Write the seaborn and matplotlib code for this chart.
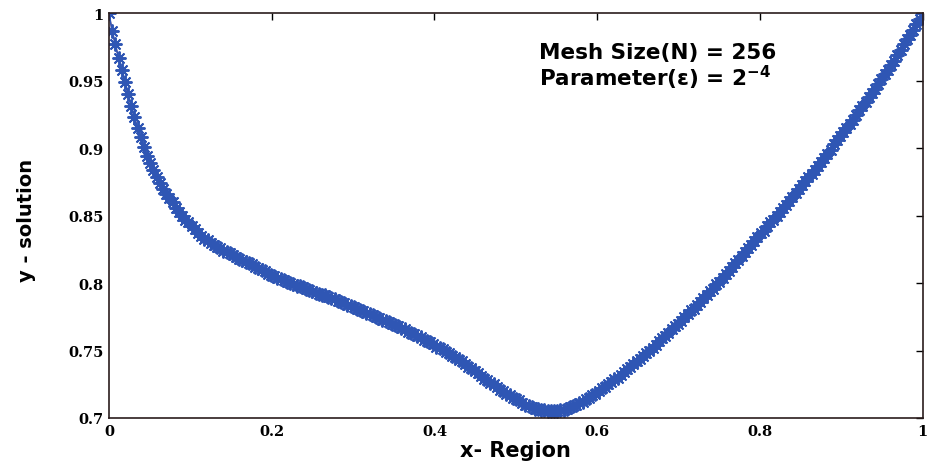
import numpy as np
import pandas as pd
import matplotlib
matplotlib.use('Agg')
import matplotlib.pyplot as plt
import seaborn as sns

# mesh N = 256 -> 257 nodes on [0, 1]
n_mesh = 256
x_nodes = np.arange(n_mesh + 1) / n_mesh

# y values, one per node
y_solution = [
    1.000, 0.987, 0.977, 0.967, 0.958, 0.949, 0.940, 0.931, 0.923, 0.915,
    0.908, 0.901, 0.894, 0.889, 0.884, 0.879, 0.874, 0.870, 0.866, 0.863,
    0.860, 0.856, 0.853, 0.850, 0.847, 0.845, 0.842, 0.840, 0.837, 0.835,
    0.833, 0.832, 0.830, 0.828, 0.827, 0.826, 0.824, 0.823, 0.822, 0.821,
    0.819, 0.818, 0.817, 0.816, 0.815, 0.814, 0.812, 0.811, 0.810, 0.809,
    0.807, 0.806, 0.805, 0.804, 0.803, 0.802, 0.801, 0.800, 0.799, 0.798,
    0.798, 0.797, 0.796, 0.795, 0.794, 0.793, 0.792, 0.791, 0.791, 0.790,
    0.789, 0.788, 0.787, 0.786, 0.785, 0.784, 0.783, 0.782, 0.781, 0.780,
    0.779, 0.778, 0.777, 0.776, 0.775, 0.774, 0.773, 0.772, 0.771, 0.770,
    0.769, 0.768, 0.767, 0.766, 0.764, 0.763, 0.762, 0.761, 0.760, 0.758,
    0.757, 0.756, 0.755, 0.753, 0.752, 0.751, 0.749, 0.748, 0.746, 0.745,
    0.743, 0.742, 0.740, 0.738, 0.737, 0.735, 0.733, 0.731, 0.729, 0.728,
    0.726, 0.725, 0.723, 0.721, 0.720, 0.718, 0.717, 0.715, 0.714, 0.713,
    0.711, 0.710, 0.709, 0.708, 0.707, 0.707, 0.706, 0.706, 0.705, 0.705,
    0.705, 0.705, 0.706, 0.706, 0.707, 0.708, 0.709, 0.710, 0.711, 0.712,
    0.714, 0.715, 0.717, 0.718, 0.720, 0.722, 0.723, 0.725, 0.727, 0.729,
    0.730, 0.732, 0.734, 0.736, 0.738, 0.740, 0.742, 0.744, 0.746, 0.748,
    0.750, 0.752, 0.754, 0.757, 0.759, 0.761, 0.763, 0.766, 0.768, 0.770,
    0.772, 0.775, 0.777, 0.780, 0.781, 0.784, 0.786, 0.789, 0.791, 0.794,
    0.796, 0.799, 0.801, 0.804, 0.807, 0.809, 0.812, 0.815, 0.817, 0.820,
    0.823, 0.826, 0.828, 0.831, 0.834, 0.837, 0.839, 0.842, 0.845, 0.847,
    0.850, 0.853, 0.856, 0.858, 0.861, 0.864, 0.867, 0.870, 0.873, 0.876,
    0.879, 0.881, 0.884, 0.887, 0.890, 0.893, 0.896, 0.899, 0.903, 0.906,
    0.909, 0.912, 0.915, 0.918, 0.921, 0.925, 0.928, 0.931, 0.934, 0.938,
    0.941, 0.944, 0.948, 0.951, 0.955, 0.958, 0.962, 0.965, 0.969, 0.973,
    0.977, 0.981, 0.984, 0.988, 0.992, 0.996, 1.000,
]

x_ticks = [0, 0.2, 0.4, 0.6, 0.8, 1]
x_tick_labels = ['0', '0.2', '0.4', '0.6', '0.8', '1']
y_ticks = [0.7, 0.75, 0.8, 0.85, 0.9, 0.95, 1]
y_tick_labels = ['0.7', '0.75', '0.8', '0.85', '0.9', '0.95', '1']

df = pd.DataFrame({'x': x_nodes, 'y': y_solution})

sns.set_style('white')
plt.rcParams['font.family'] = ['DejaVu Sans']
plt.rcParams['text.color'] = 'black'
plt.rcParams['axes.labelcolor'] = 'black'
plt.rcParams['mathtext.fontset'] = 'custom'
plt.rcParams['mathtext.rm'] = 'DejaVu Sans:bold'
plt.rcParams['mathtext.it'] = 'DejaVu Sans:bold'
plt.rcParams['mathtext.bf'] = 'DejaVu Sans:bold'

fig = plt.figure(figsize=(9.29, 4.64), dpi=100)
ax = fig.add_axes([0.1173, 0.097, 0.876, 0.872])

# thin red line underneath, blue asterisks on top (matlab style '*')
sns.lineplot(data=df, x='x', y='y', ax=ax, color='#e0302a', linewidth=0.8,
             estimator=None, sort=False)
sns.lineplot(data=df, x='x', y='y', ax=ax, color='#2f56b4', linewidth=1.2,
             marker=(8, 2, 0), markersize=10, markeredgewidth=1.4,
             markeredgecolor='#2f56b4', estimator=None, sort=False)

ax.set_xlim(0, 1)
ax.set_ylim(0.7, 1)
ax.set_xticks(x_ticks)
ax.set_xticklabels(x_tick_labels)
ax.set_yticks(y_ticks)
ax.set_yticklabels(y_tick_labels)
ax.tick_params(direction='in', length=5, width=1, top=True, right=True,
               colors='black', pad=4)
for lab in ax.get_xticklabels() + ax.get_yticklabels():
    lab.set_family('DejaVu Serif')
    lab.set_fontweight('bold')
    lab.set_fontsize(10.5)
for sp in ax.spines.values():
    sp.set_color('#2a1c1c')
    sp.set_linewidth(1.2)

ax.set_xlabel('x- Region', fontsize=15, fontweight='bold', labelpad=2)
ax.set_ylabel('y - solution', fontsize=14, fontweight='bold')
ax.yaxis.set_label_coords(-0.09, 0.49)

ax.text(0.528, 0.9667, 'Mesh Size(N) = 256', fontsize=15.5, fontweight='bold')
ax.text(0.528, 0.9465, 'Parameter(\u03b5) = 2$^{-4}$', fontsize=15.5,
        fontweight='bold')

fig.savefig('out.png', dpi=100)
